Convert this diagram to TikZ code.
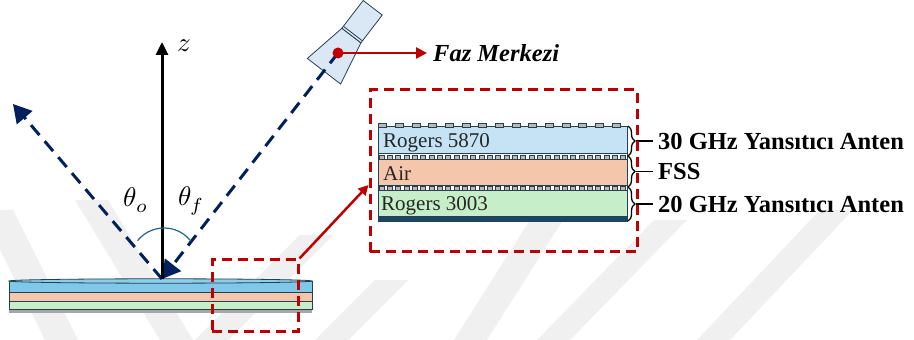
\documentclass[tikz,border=0pt]{standalone}
\usepackage{fontspec}
\setmainfont{Liberation Serif}
\usepackage{unicode-math}
\usetikzlibrary{arrows.meta,calc,decorations.pathreplacing}
\newcommand{\figunit}{1pt}
\definecolor{navy}{RGB}{0,32,96}
\definecolor{darkred}{RGB}{192,0,0}
\definecolor{slate}{RGB}{38,64,80}
\definecolor{arcteal}{RGB}{31,105,140}
\definecolor{rogblue}{RGB}{197,227,245}
\definecolor{airsalmon}{RGB}{246,198,172}
\definecolor{roggreen}{RGB}{198,238,200}
\definecolor{discblue}{RGB}{127,200,234}
\definecolor{groundblue}{RGB}{25,70,105}
\definecolor{hornblue}{RGB}{218,232,246}
\definecolor{markgray}{RGB}{240,240,240}
\newcommand{\patchrow}[6]{% x0, y, height, step, width, last index
	\foreach \k in {0,...,#6}
		\draw[patch] ({#1+\k*#4},#2) rectangle ++(#5,#3);
}
\newcommand{\markband}[3]{% bottom x, top x, top y
	\fill[markgray] (#1,0) -- (#1+33,0) -- (#2+33,#3) -- (#2,#3) -- cycle;
}
\tikzset{
	navyline/.style={draw=navy, line width=3pt, dash pattern=on 13pt off 8pt},
	zaxis/.style={draw=black, line width=3pt, -{Triangle[length=13pt,width=12pt]}},
	redbox/.style={draw=darkred, line width=3pt, dash pattern=on 10pt off 6pt, inner sep=0pt},
	redline/.style={draw=darkred, line width=2.5pt},
	layer/.style={draw=slate, line width=0.8pt, inner sep=0pt, anchor=south west},
	patch/.style={draw=slate, fill=gray!55, line width=0.5pt},
	discline/.style={draw=slate, line width=0.8pt},
	layertext/.style={font=\fontsize{21}{24}\selectfont, text=black!85, anchor=base west, inner sep=0pt},
	bigbold/.style={font=\fontsize{24.5}{28}\selectfont\bfseries, anchor=west, inner xsep=5pt, inner ysep=0pt},
	bracestyle/.style={draw=black, line width=1.3pt, decorate, decoration={brace, amplitude=7pt}},
	anglearc/.style={draw=arcteal, line width=1.2pt},
	mathlbl/.style={scale=2.7, inner sep=0pt},
}

\begin{document}
\begin{tikzpicture}[x=\figunit,y=\figunit]
	\useasboundingbox (0,0) rectangle (914,340);
	\fill[white] (0,0) rectangle (914,340);

	% faint chevrons in the background
	\markband{45}{-20}{130}
	\markband{160}{75}{140}
	\markband{195}{300}{105}
	\markband{315}{375}{60}
	\markband{454}{530}{120}
	\markband{537}{654}{120}
	\markband{697}{820}{130}

	% layered disc
	\fill[gray!70] (9,27) rectangle (312,31);
	\draw[discline, fill=roggreen] (9,31) rectangle (312,39);
	\draw[discline, fill=airsalmon] (9,39) rectangle (312,48);
	\draw[discline, fill=discblue] (9,48) rectangle (312,59);
	\draw[discline, fill=discblue!90!white] (160.5,59) ellipse (151.5 and 2.2);

	\coordinate (O) at (162,61);
	\coordinate (ztip) at (162,298);
	\coordinate (refl) at (13,236);
	\coordinate (feed) at (338,287);
	\coordinate (arcc) at (164,78);

	% horn antenna
	\begin{scope}[shift={(feed)}, rotate=52.5]
		\draw[discline, fill=hornblue] (-23,-21) -- (22,-12) -- (22,12) -- (-23,21) -- cycle;
		\draw[discline, fill=hornblue] (22,-12) rectangle (57,12);
		\draw[discline] (24.5,-12) -- (24.5,12);
	\end{scope}

	\draw[navyline, -{Triangle[length=18pt,width=20pt]}] (O) -- (refl);
	\draw[navyline, -{Triangle[length=18pt,width=20pt]}] (feed) -- (O);
	\draw[zaxis] (O) -- (ztip);
	\node[mathlbl] (zlbl) at (184,294) {$z$};

	\draw[anglearc] ([shift={(141:34)}]arcc) arc[start angle=141, end angle=38, radius=34];
	\node[mathlbl] (tho) at (136,140) {$\theta_o$};
	\node[mathlbl] (thf) at (191,139) {$\theta_f$};

	% phase centre
	\node[font=\fontsize{24.5}{28}\selectfont\bfseries\itshape, anchor=west, inner xsep=6pt, inner ysep=0pt] (fazlbl) at (427,287) {Faz Merkezi};
	\draw[redline, -{Triangle[length=11pt,width=11pt]}] (feed) -- (fazlbl.west);
	\fill[darkred] (feed) circle (5.5);

	% zoomed cross-section
	\node[layer, fill=rogblue, minimum width=249, minimum height=27] (r5870) at (378,186) {};
	\node[layer, fill=white, minimum width=249, minimum height=6] (fss1) at (378,180) {};
	\node[layer, fill=airsalmon, minimum width=249, minimum height=26] (air) at (378,154) {};
	\node[layer, fill=white, minimum width=249, minimum height=5] (fss2) at (378,149) {};
	\node[layer, fill=roggreen, minimum width=249, minimum height=26] (r3003) at (378,123) {};
	\node[layer, fill=groundblue, minimum width=249, minimum height=5] (gnd) at (378,118) {};
	\patchrow{378.5}{213}{4}{16.67}{8}{14}
	\patchrow{379}{180.8}{4.4}{8.33}{5}{29}
	\patchrow{379}{149.6}{3.8}{8.33}{5}{29}
	\node[layertext] (t5870) at (383,192) {Rogers 5870};
	\node[layertext] (tair) at (383,159) {Air};
	\node[layertext] (t3003) at (381,129) {Rogers 3003};

	\draw[bracestyle] (628,214) -- (628,184);
	\draw[bracestyle] (628,184) -- (628,153);
	\draw[bracestyle] (628,153) -- (628,119);
	\coordinate (tip1) at (636,199);
	\coordinate (tip2) at (636,168.5);
	\coordinate (tip3) at (636,136);
	\node[bigbold] (lbl30) at (653,199) {30 GHz Yansıtıcı Anten};
	\node[bigbold] (lblfss) at (653,168.5) {FSS};
	\node[bigbold] (lbl20) at (653,136) {20 GHz Yansıtıcı Anten};
	\draw[line width=1.3pt] (tip1) -- (lbl30.west);
	\draw[line width=1.3pt] (tip2) -- (lblfss.west);
	\draw[line width=1.3pt] (tip3) -- (lbl20.west);

	% zoom boxes
	\node[redbox, minimum width=86, minimum height=72] (zoombox) at (255,44) {};
	\node[redbox, minimum width=267, minimum height=162] (detail) at (503.5,169) {};
	\draw[redline, -{Triangle[length=10pt,width=10pt]}] (zoombox.north east) -- ([yshift=-14pt]detail.west);
\end{tikzpicture}
\end{document}
